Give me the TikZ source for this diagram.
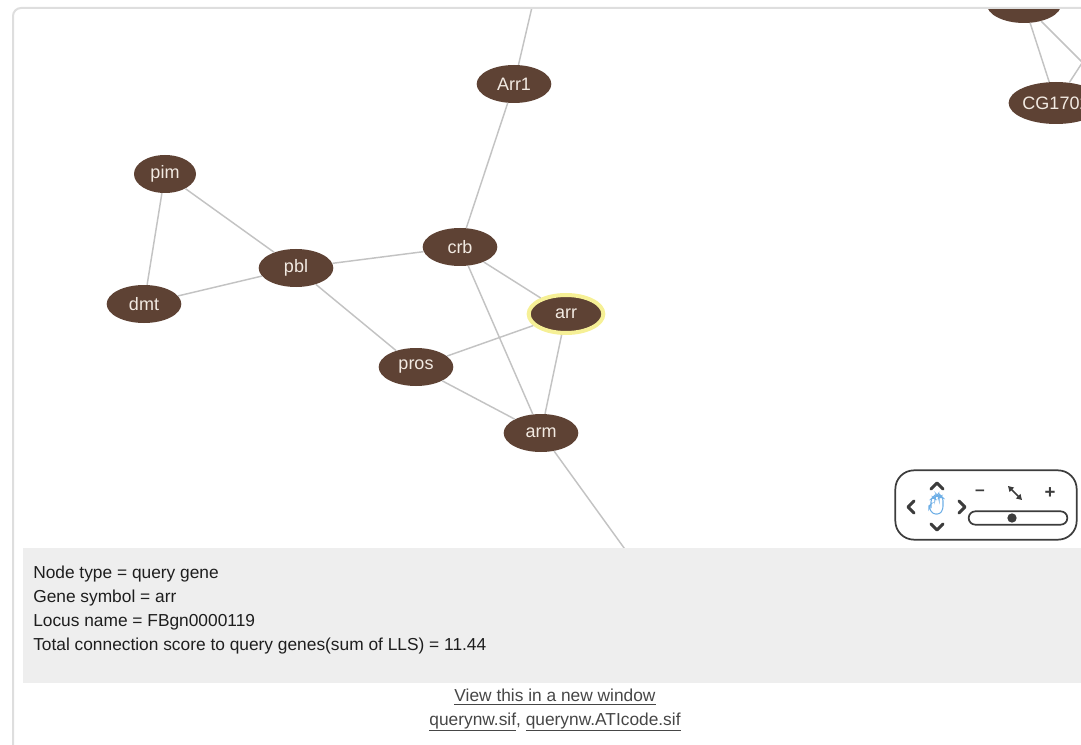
\documentclass[tikz,border=0pt]{standalone}
\usepackage{fontspec}
\setmainfont{Liberation Sans}
\usetikzlibrary{arrows.meta, shapes.geometric}
\definecolor{genebrown}{RGB}{94,66,52}
\definecolor{genetext}{RGB}{242,234,226}
\definecolor{edgegray}{RGB}{195,195,195}
\definecolor{panelgray}{RGB}{238,238,238}
\definecolor{framegray}{RGB}{222,222,222}
\definecolor{glowyellow}{RGB}{246,240,150}
\definecolor{handblue}{RGB}{110,175,230}
\definecolor{textgray}{RGB}{30,30,30}
\definecolor{linkgray}{RGB}{70,70,70}
\definecolor{navgray}{RGB}{60,60,60}

\begin{document}
\begin{tikzpicture}[
    x=0.75pt, y=-0.75pt,
    gene/.style={ellipse, fill=genebrown, text=genetext, inner sep=0pt, minimum width=56pt, minimum height=28.5pt, font=\fontsize{13.5}{14}\selectfont},
    edge/.style={draw=edgegray, line width=1.1pt},
    chevron/.style={draw=navgray, line width=2.2pt, line cap=round, line join=round},
    infotext/.style={text=textgray, align=left, inner sep=0pt, font=\fontsize{13}{18}\selectfont},
    linktext/.style={text=linkgray, font=\fontsize{13}{14}\selectfont}
]
\useasboundingbox (0,0) rectangle (1081,745);

% Frame
\draw[framegray, line width=1.5pt, rounded corners=6pt] (13,8) rectangle (1110,770);

% Network
\begin{scope}
\clip (14,10) rectangle (1081,548);

\node[gene] (arr1) at (514,84) {Arr1};
\node[gene, minimum width=46.5pt] (pim) at (165,174) {pim};
\node[gene] (dmt) at (144,304) {dmt};
\node[gene] (pbl) at (296,268) {pbl};
\node[gene] (crb) at (460,247) {crb};
\node[gene, draw=glowyellow, line width=3pt] (arr) at (566,314) {arr};
\node[gene] (pros) at (416,367) {pros};
\node[gene] (arm) at (541,433) {arm};
\node[gene, minimum width=63pt, minimum height=31.5pt] (cg) at (1056,103) {CG1702};
\node[gene] (topgene) at (1024,4) {};

% off-screen ends
\coordinate (uparr1) at (536,-10);
\coordinate (downarm) at (640,570);
\coordinate (rightcg) at (1110,20);
\coordinate (righttop) at (1110,90);

% Edges
\draw[edge] (arr1) -- (uparr1);
\draw[edge] (arr1) -- (crb);
\draw[edge] (pim) -- (dmt);
\draw[edge] (pim) -- (pbl);
\draw[edge] (dmt) -- (pbl);
\draw[edge] (pbl) -- (crb);
\draw[edge] (pbl) -- (pros);
\draw[edge] (crb) -- (arr);
\draw[edge] (crb) -- (arm);
\draw[edge] (pros) -- (arr);
\draw[edge] (pros) -- (arm);
\draw[edge] (arr) -- (arm);
\draw[edge] (arm) -- (downarm);
\draw[edge] (topgene) -- (cg);
\draw[edge] (topgene) -- (righttop);
\draw[edge] (cg) -- (rightcg);
\end{scope}

% Navigator
\node[draw=navgray, line width=1.3pt, rounded corners=14pt, minimum width=136pt, minimum height=52pt] (nav) at (986,505) {};
\draw[chevron] (931,489) -- (937,483) -- (943,489);
\draw[chevron] (931,524) -- (937,530) -- (943,524);
\draw[chevron] (914,501) -- (908,507) -- (914,513);
\draw[chevron] (959,501) -- (965,507) -- (959,513);
% hand
\draw[handblue, line width=0.8pt, rounded corners=2pt] (931,508) -- (931,499) -- (933,497) -- (935,499) -- (935,497) -- (937,495) -- (939,497) -- (939,498) -- (941,496) -- (943,498) -- (943,509) -- (940,514) -- (933,514) -- (929,508) -- (929,505) -- (931,504);
\node[text=navgray, font=\bfseries\fontsize{13}{13}\selectfont] (zoomout) at (980,493) {–};
\node[text=navgray, font=\bfseries\fontsize{14}{14}\selectfont] (zoomin) at (1050,493) {+};
\draw[navgray, line width=1.3pt, {Triangle[length=4pt, width=4.5pt]}-{Triangle[length=4pt, width=4.5pt]}] (1008,486) -- (1022,500);
\node[draw=navgray, line width=1.3pt, rounded corners=5pt, minimum width=74pt, minimum height=10pt] (slider) at (1018,518) {};
\fill[navgray] (1012,518) circle (3.5pt);

% Info panel
\fill[panelgray] (23,548) rectangle (1081,683);
\node[infotext, anchor=north west] (info) at (33,566) {Node type = query gene\\Gene symbol = arr\\Locus name = FBgn0000119\\Total connection score to query genes(sum of LLS) = 11.44};

% Links
\node[linktext] (newwin) at (555,697) {\underline{View this in a new window}};
\node[linktext] (siffiles) at (555,722) {\underline{querynw.sif}, \underline{querynw.ATIcode.sif}};
\end{tikzpicture}
\end{document}
